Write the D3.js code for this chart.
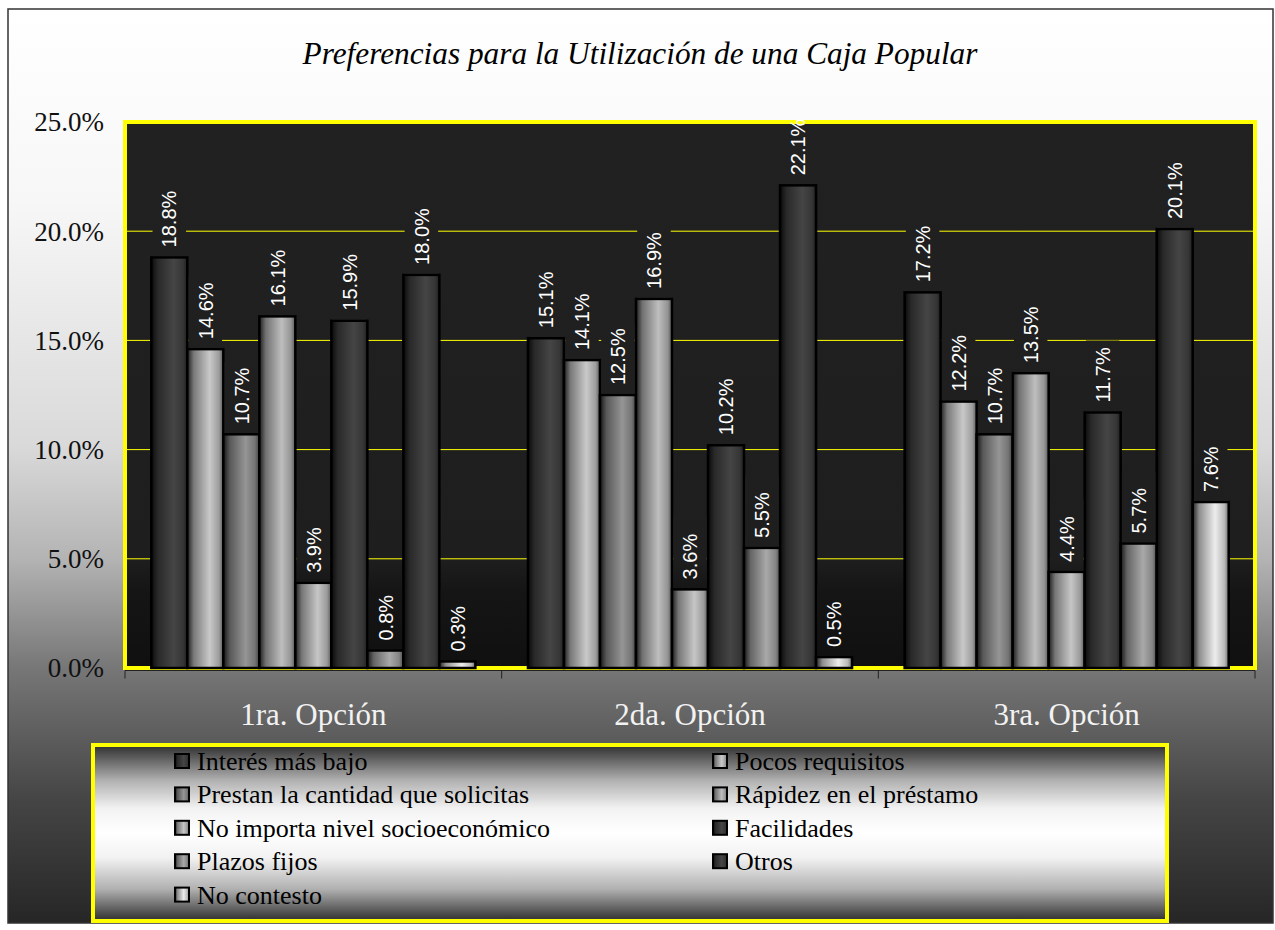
<!DOCTYPE html>
<html>
<head>
<meta charset="utf-8">
<script src="https://cdn.jsdelivr.net/npm/d3@7"></script>
<style>
  body { margin: 0; background: #fff; }
  svg { display: block; }
</style>
</head>
<body>
<svg id="chart"></svg>
<script>
var categories = ['1ra. Opción', '2da. Opción', '3ra. Opción'];

var series = [
  'Interés más bajo',
  'Pocos requisitos',
  'Prestan la cantidad que solicitas',
  'Rápidez en el préstamo',
  'No importa nivel socioeconómico',
  'Facilidades',
  'Plazos fijos',
  'Otros',
  'No contesto'
];

// one list per series, values for 1ra / 2da / 3ra opcion
var interesMasBajo    = [18.8, 15.1, 17.2];
var pocosRequisitos   = [14.6, 14.1, 12.2];
var prestanCantidad   = [10.7, 12.5, 10.7];
var rapidezPrestamo   = [16.1, 16.9, 13.5];
var noImportaNivel    = [3.9, 3.6, 4.4];
var facilidades       = [15.9, 10.2, 11.7];
var plazosFijos       = [0.8, 5.5, 5.7];
var otros             = [18.0, 22.1, 20.1];
var noContesto        = [0.3, 0.5, 7.6];

var yTicks = [0, 5, 10, 15, 20, 25];

var values = [interesMasBajo, pocosRequisitos, prestanCantidad, rapidezPrestamo,
  noImportaNivel, facilidades, plazosFijos, otros, noContesto];

// brightest tone of each bar's cylinder shading
var peakColors = ['#454545', '#c9c9c9', '#959595', '#bebebe', '#c6c6c6',
  '#454545', '#a9a9a9', '#454545', '#ededed'];

var serifFont = "'Liberation Serif', 'Times New Roman', Times, 'DejaVu Serif', serif";
var sansFont = "'Liberation Sans', Arial, sans-serif";

var width = 1275,
    height = 930;

var plot = { left: 125, right: 1255, top: 122, bottom: 668 };

var plotStops = [[0, '#212121'], [0.8, '#1e1e1e'], [0.86, '#151515'], [1, '#101010']];

var svg = d3.select('#chart')
    .attr('width', width)
    .attr('height', height);

var defs = svg.append('defs');

// outer background
var bg = defs.append('linearGradient')
    .attr('id', 'bgGrad')
    .attr('x1', 0).attr('y1', 0).attr('x2', 0).attr('y2', 1);
[[0, '#ffffff'], [0.21, '#f7f7f7'], [0.48, '#d9d9d9'], [0.6, '#b4b4b4'],
 [0.72, '#777777'], [0.865, '#454545'], [1, '#262626']].forEach(function(s) {
  bg.append('stop').attr('offset', s[0]).attr('stop-color', s[1]);
});

// plot area background (also used behind the data labels)
var pg = defs.append('linearGradient')
    .attr('id', 'plotGrad')
    .attr('gradientUnits', 'userSpaceOnUse')
    .attr('x1', 0).attr('y1', plot.top).attr('x2', 0).attr('y2', plot.bottom);
plotStops.forEach(function(s) {
  pg.append('stop').attr('offset', s[0]).attr('stop-color', s[1]);
});

// legend background
var lg = defs.append('linearGradient')
    .attr('id', 'legendGrad')
    .attr('x1', 0).attr('y1', 0).attr('x2', 0).attr('y2', 1);
[[0, '#2e2e2e'], [0.2, '#b0b0b0'], [0.36, '#f2f2f2'], [0.5, '#ffffff'],
 [0.64, '#f2f2f2'], [0.82, '#b0b0b0'], [1, '#2e2e2e']].forEach(function(s) {
  lg.append('stop').attr('offset', s[0]).attr('stop-color', s[1]);
});

// cylinder shading for each series
peakColors.forEach(function(c, i) {
  var g = defs.append('linearGradient')
      .attr('id', 'barGrad' + i)
      .attr('x1', 0).attr('y1', 0).attr('x2', 1).attr('y2', 0);
  var mix = d3.interpolateRgb('#000000', c);
  [[0, 0.15], [0.18, 0.6], [0.62, 1], [0.88, 0.78], [1, 0.45]].forEach(function(s) {
    g.append('stop').attr('offset', s[0]).attr('stop-color', mix(s[1]));
  });
});

defs.append('clipPath')
    .attr('id', 'plotClip')
  .append('rect')
    .attr('x', plot.left + 2).attr('y', plot.top + 2)
    .attr('width', plot.right - plot.left - 4)
    .attr('height', plot.bottom - plot.top - 4);

svg.append('rect')
    .attr('x', 8).attr('y', 9)
    .attr('width', 1265).attr('height', 914)
    .attr('fill', 'url(#bgGrad)')
    .attr('stroke', '#333')
    .attr('stroke-width', 1.5);

svg.append('text')
    .attr('x', 640)
    .attr('y', 64)
    .attr('text-anchor', 'middle')
    .style('font-family', serifFont)
    .style('font-style', 'italic')
    .style('font-size', '31.3px')
    .attr('fill', '#000')
    .text('Preferencias para la Utilización de una Caja Popular');

// Scales
var x0 = d3.scaleBand()
    .domain(categories)
    .range([plot.left, plot.right])
    .padding(0);

var x1 = d3.scaleBand()
    .domain(d3.range(series.length))
    .range([0, x0.bandwidth()])
    .paddingInner(0)
    .paddingOuter(0.73);

var y = d3.scaleLinear()
    .domain([0, 25])
    .range([plot.bottom, plot.top]);

// Plot area
svg.append('rect')
    .attr('x', plot.left).attr('y', plot.top)
    .attr('width', plot.right - plot.left)
    .attr('height', plot.bottom - plot.top)
    .attr('fill', 'url(#plotGrad)')
    .attr('stroke', '#ffff00')
    .attr('stroke-width', 4);

svg.append('g')
    .attr('class', 'grid')
  .selectAll('line')
  .data(yTicks.filter(function(t) { return t > 0 && t < 25; }))
  .enter().append('line')
    .attr('x1', plot.left + 2).attr('x2', plot.right - 2)
    .attr('y1', function(d) { return y(d); })
    .attr('y2', function(d) { return y(d); })
    .attr('stroke', '#ffff00')
    .attr('stroke-width', 1);

// y axis labels
svg.append('g')
    .attr('class', 'y-labels')
  .selectAll('text')
  .data(yTicks)
  .enter().append('text')
    .attr('x', 104)
    .attr('y', function(d) { return y(d); })
    .attr('dy', '0.35em')
    .attr('text-anchor', 'end')
    .style('font-family', serifFont)
    .style('font-size', '27px')
    .attr('fill', '#111')
    .text(function(d) { return d3.format('.1f')(d) + '%'; });

// x axis with category ticks
var xAxis = svg.append('g')
    .attr('transform', 'translate(0,' + (plot.bottom + 2.5) + ')');

xAxis.append('line')
    .attr('x1', plot.left).attr('x2', plot.right)
    .attr('stroke', '#222').attr('stroke-width', 1);

xAxis.selectAll('.tick')
  .data(categories.map(function(c) { return x0(c); }).concat([plot.right]))
  .enter().append('line')
    .attr('class', 'tick')
    .attr('x1', function(d) { return d; })
    .attr('x2', function(d) { return d; })
    .attr('y1', 0).attr('y2', 8)
    .attr('stroke', '#222').attr('stroke-width', 1);

xAxis.selectAll('.cat')
  .data(categories)
  .enter().append('text')
    .attr('class', 'cat')
    .attr('x', function(d) { return x0(d) + x0.bandwidth() / 2; })
    .attr('y', 54)
    .attr('text-anchor', 'middle')
    .style('font-family', serifFont)
    .style('font-size', '31px')
    .attr('fill', '#f2f2f2')
    .text(function(d) { return d; });

// Bars
var barData = [];
series.forEach(function(s, i) {
  categories.forEach(function(c, j) {
    barData.push({ series: i, cat: c, value: values[i][j] });
  });
});

svg.append('g')
    .attr('class', 'bars')
  .selectAll('rect')
  .data(barData)
  .enter().append('rect')
    .attr('x', function(d) { return x0(d.cat) + x1(d.series); })
    .attr('y', function(d) { return y(d.value); })
    .attr('width', x1.bandwidth())
    .attr('height', function(d) { return y(0) - y(d.value); })
    .attr('fill', function(d) { return 'url(#barGrad' + d.series + ')'; })
    .attr('stroke', '#000')
    .attr('stroke-width', 2.5);

// Data labels: backing box in plot colour, clipped to the plot
svg.append('g')
    .attr('class', 'label-boxes')
    .attr('clip-path', 'url(#plotClip)')
  .selectAll('rect')
  .data(barData)
  .enter().append('rect')
    .attr('x', function(d) { return x0(d.cat) + x1(d.series) + 1.25; })
    .attr('y', function(d) { return y(d.value) - 72; })
    .attr('width', x1.bandwidth() - 2.5)
    .attr('height', 70.7)
    .attr('fill', 'url(#plotGrad)');

svg.append('g')
    .attr('class', 'labels')
  .selectAll('text')
  .data(barData)
  .enter().append('text')
    .attr('transform', function(d) {
      var cx = x0(d.cat) + x1(d.series) + x1.bandwidth() / 2;
      return 'translate(' + cx + ',' + (y(d.value) - 10) + ') rotate(-90)';
    })
    .attr('dy', '0.36em')
    .style('font-family', sansFont)
    .style('font-size', '20px')
    .attr('fill', '#ffffff')
    .text(function(d) { return d3.format('.1f')(d.value) + '%'; });

// Legend
var legend = svg.append('g')
    .attr('class', 'legend');

legend.append('rect')
    .attr('x', 93).attr('y', 745)
    .attr('width', 1074).attr('height', 176)
    .attr('fill', 'url(#legendGrad)')
    .attr('stroke', '#ffff00')
    .attr('stroke-width', 4);

var item = legend.selectAll('.item')
  .data(series)
  .enter().append('g')
    .attr('class', 'item')
    .attr('transform', function(d, i) {
      var col = i % 2, row = Math.floor(i / 2);
      return 'translate(' + (col === 0 ? 175 : 713) + ',' + (770 + row * 33.4) + ')';
    });

item.append('rect')
    .attr('x', 0).attr('y', -16)
    .attr('width', 14).attr('height', 14)
    .attr('fill', function(d, i) { return 'url(#barGrad' + i + ')'; })
    .attr('stroke', '#000')
    .attr('stroke-width', 2);

item.append('text')
    .attr('x', 22)
    .attr('y', 0)
    .style('font-family', serifFont)
    .style('font-size', '26px')
    .attr('fill', '#000')
    .text(function(d) { return d; });
</script>
</body>
</html>
